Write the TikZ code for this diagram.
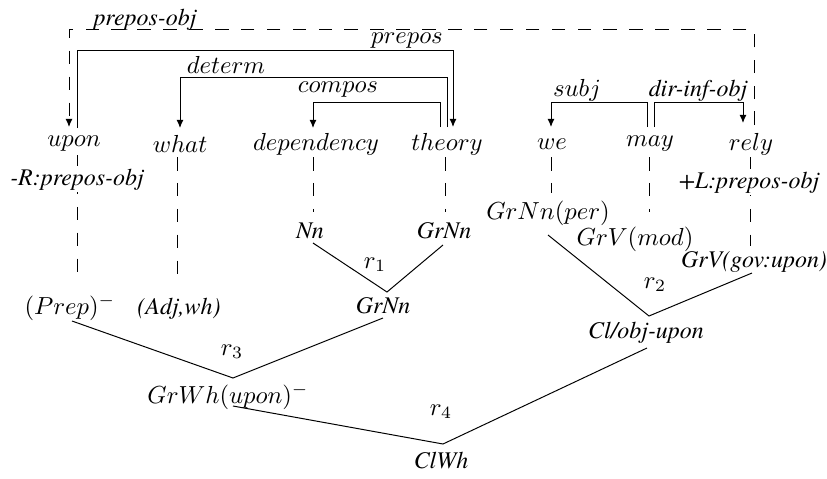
\documentclass[tikz,border=0pt]{standalone}
\usepackage{fontspec}
\newfontfamily\timit{texgyretermes-italic.otf}
\usetikzlibrary{arrows.meta}
\begin{document}
\begin{tikzpicture}[x=0.4055pt,y=-0.4055pt,
  word/.style={inner sep=0pt},
  lbl/.style={inner sep=0pt,anchor=base},
  lab/.style={inner sep=0pt,anchor=base,font=\timit\fontsize{9.7}{11}\selectfont},
  arr/.style={-{Latex[length=3.3pt,width=2.8pt]},line width=0.4pt},
  dsh/.style={dash pattern=on 5.5pt off 5pt,line width=0.4pt},
  tree/.style={line width=0.4pt}]
\useasboundingbox (0,0) rectangle (827,478);
% words
\node[word] (upon) at (74,144) {$upon$};
\node[word] (what) at (180,144) {$what$};
\node[word] (dep) at (316,144) {$dependency$};
\node[word] (theory) at (447,144) {$theory$};
\node[word] (we) at (552,144) {$we$};
\node[word] (may) at (650,144) {$may$};
\node[word] (rely) at (751,144) {$rely$};
% arc labels
\node[lab] (lpo) at (145,25) {prepos-obj};
\node[lbl] (lprepos) at (407,43) {$prepos$};
\node[lbl] (ldeterm) at (226,73) {$determ$};
\node[lbl] (lcompos) at (338,92) {$compos$};
\node[lbl] (lsubj) at (577,96) {$subj$};
\node[lab] (ldio) at (698,96) {dir-inf-obj};
% arc ports
\coordinate (poS) at (754,125); \coordinate (poE) at (69,127); \coordinate (ypo) at (0,29);
\coordinate (prS) at (77,128); \coordinate (prE) at (453,127); \coordinate (ypr) at (0,50.5);
\coordinate (deS) at (447,127); \coordinate (deE) at (180,128); \coordinate (yde) at (0,77);
\coordinate (coS) at (440,127); \coordinate (coE) at (313,128); \coordinate (yco) at (0,102);
\coordinate (suS) at (647,127); \coordinate (suE) at (551,127);
\coordinate (diS) at (654,127); \coordinate (diE) at (743,123);
\draw[dsh,arr] (poS) -- (poS |- ypo) -| (poE);
\draw[arr] (prS) -- (prS |- ypr) -| (prE);
\draw[arr] (deS) -- (deS |- yde) -| (deE);
\draw[arr] (coS) -- (coS |- yco) -| (coE);
\draw[arr] (suS) -- (suS |- yco) -| (suE);
\draw[arr] (diS) -- (diS |- yco) -| (diE);
% category labels
\node[lbl] (Prep) at (70,314) {$(Prep)^-$};
\node[lab] (Adj) at (179,314) {(Adj,wh)};
\node[lab] (Nn) at (310,238) {Nn};
\node[lab] (GrNnA) at (444,238) {GrNn};
\node[lbl] (GrNnper) at (548,219) {$GrNn(per)$};
\node[lbl] (GrVmod) at (635,245) {$GrV(mod)$};
\node[lab] (GrVgov) at (754,267) {GrV(gov:upon)};
\node[lbl] (r1) at (375,268) {$r_1$};
\node[lbl] (r2) at (655,288) {$r_2$};
\node[lab] (GrNnB) at (383,313) {GrNn};
\node[lab] (Clobj) at (646,338) {Cl/obj-upon};
\node[lbl] (r3) at (232,355) {$r_3$};
\node[lbl] (GrWh) at (228,403) {$GrWh(upon)^-$};
\node[lbl] (r4) at (441,415) {$r_4$};
\node[lab] (ClWh) at (441,468) {ClWh};
% dashed projections
\coordinate (uA) at (77,155); \coordinate (uB) at (77,273);
\coordinate (wA) at (177,157); \coordinate (wB) at (177,282);
\coordinate (dA) at (313,157); \coordinate (dB) at (313,212);
\coordinate (tA) at (445,157); \coordinate (tB) at (445,212);
\coordinate (eA) at (551,157); \coordinate (eB) at (551,193);
\coordinate (mA) at (649,157); \coordinate (mB) at (649,212);
\coordinate (yA) at (750,157); \coordinate (yB) at (750,246);
\draw[dsh] (uA) -- (uB);
\draw[dsh] (wA) -- (wB);
\draw[dsh] (dA) -- (dB);
\draw[dsh] (tA) -- (tB);
\draw[dsh] (eA) -- (eB);
\draw[dsh] (mA) -- (mB);
\draw[dsh] (yA) -- (yB);
\node[lab,fill=white,inner sep=1pt] (Rl) at (77,185) {-R:prepos-obj};
\node[lab,fill=white,inner sep=1pt] (Ll) at (749,188) {+L:prepos-obj};
% tree
\coordinate (t1a) at (313,243); \coordinate (t1v) at (387,292); \coordinate (t1b) at (443,245);
\coordinate (t2a) at (548,235); \coordinate (t2v) at (649,316); \coordinate (t2b) at (752,273);
\coordinate (t3a) at (72,321); \coordinate (t3v) at (233,378); \coordinate (t3b) at (383,318);
\coordinate (t4a) at (233,406); \coordinate (t4v) at (443,444); \coordinate (t4b) at (647,348);
\draw[tree] (t1a) -- (t1v) -- (t1b);
\draw[tree] (t2a) -- (t2v) -- (t2b);
\draw[tree] (t3a) -- (t3v) -- (t3b);
\draw[tree] (t4a) -- (t4v) -- (t4b);
\end{tikzpicture}
\end{document}
